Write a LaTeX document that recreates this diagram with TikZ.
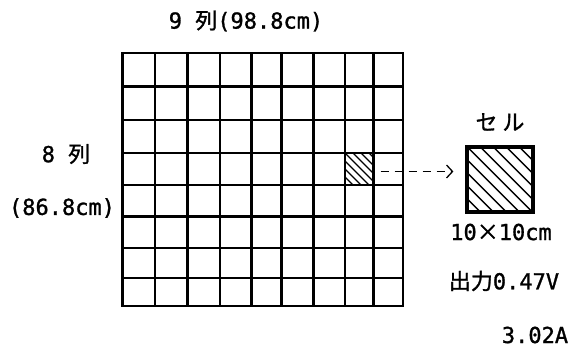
\documentclass[tikz,border=0pt]{standalone}
\usepackage{fontspec}
\setmainfont{DejaVu Sans Mono}[FakeBold=1.2]
\newfontfamily\jpfont{Noto Sans CJK JP}[FakeBold=1.2]
\usetikzlibrary{arrows.meta,positioning}

\tikzset{
  gridline/.style={line width=2.6pt, line cap=rect},
  hatchline/.style={line width=1.4pt},
  lbl/.style={font=\fontsize{22}{26}\selectfont, inner sep=0pt},
  dasharrow/.style={line width=1.3pt, dash pattern=on 8pt off 6pt,
    -{Straight Barb[length=6pt,width=13pt,line width=1.3pt]}},
}

\begin{document}
\begin{tikzpicture}[x=1pt,y=-1pt]
    \useasboundingbox (0,0) rectangle (586,348);

    % Panel: 9 columns x 8 rows
    \foreach \gx in {122.7,155,187.3,220,251.7,281.7,313.3,345,373.3,403}
        \draw[gridline] (\gx,53) -- (\gx,306);
    \foreach \gy in {53,86.7,120,153,185,216.7,248,278,306}
        \draw[gridline] (122.7,\gy) -- (403,\gy);

    % Hatched cell in the panel
    \node[inner sep=0pt, minimum width=28.3, minimum height=32] (hcell) at (359.15,169) {};
    \begin{scope}
        \clip (hcell.north west) rectangle (hcell.south east);
        \foreach \k in {-40,-32,...,32}
            \draw[hatchline] ({345+\k},153) -- ++(40,40);
    \end{scope}

    % One cell, enlarged
    \node[draw, line width=2.6pt, inner sep=0pt, minimum width=65, minimum height=64.4] (cellbox) at (500.2,179.5) {};
    \begin{scope}
        \clip (cellbox.north west) rectangle (cellbox.south east);
        \foreach \k in {-65,-52,...,65}
            \draw[hatchline] ({467.7+\k},147.3) -- ++(70,70);
    \end{scope}
    \draw[line width=2.6pt] (cellbox.north west) rectangle (cellbox.south east);

    \draw[dasharrow, shorten <=7pt, shorten >=13pt]
        ([yshift=-2.5pt]hcell.east) -- ([yshift=-2.5pt]hcell.east -| cellbox.west);

    % Labels
    \node[lbl] (collbl) at (246,21) {9 {\jpfont 列}(98.8cm)};
    \node[lbl] (rowlbl) at (66,154) {8 {\jpfont 列}};
    \node[lbl] (rowlen) at (62,208) {(86.8cm)};
    \node[lbl] (celllbl) at (500,122) {{\jpfont セ ル}};
    \node[lbl] (cellsize) at (501,232) {10{\jpfont ×}10cm};
    \node[lbl] (voltlbl) at (504,281) {{\jpfont 出力}0.47V};
    \node[lbl] (amplbl) at (535,335) {3.02A};
\end{tikzpicture}
\end{document}
